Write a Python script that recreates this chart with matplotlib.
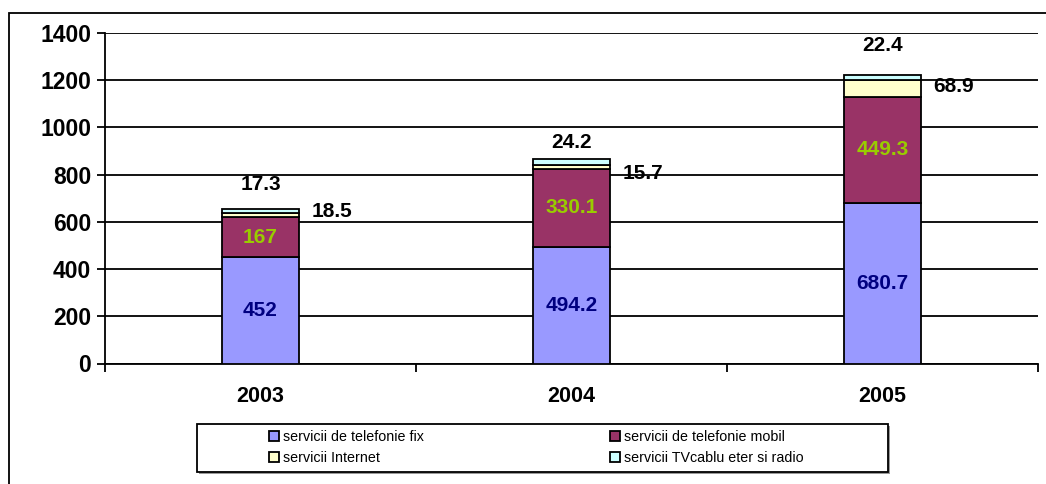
import matplotlib
matplotlib.use("Agg")
import matplotlib.pyplot as plt
from matplotlib.patches import Rectangle
import numpy as np

plt.rcParams['font.family'] = ['Liberation Sans', 'DejaVu Sans']

years = ["2003", "2004", "2005"]
fix = [452, 494.2, 680.7]
mobil = [167, 330.1, 449.3]
internet = [18.5, 15.7, 68.9]
tv = [17.3, 24.2, 22.4]
series_names = ["servicii de telefonie fix", "servicii de telefonie mobil",
                "servicii Internet", "servicii TVcablu eter si radio"]
yticks = [0, 200, 400, 600, 800, 1000, 1200, 1400]

colors = ["#9999FF", "#993366", "#FFFFCC", "#CCFFFF"]

fig = plt.figure(figsize=(10.46, 4.84), dpi=100)
ax = fig.add_axes([105/1046, 1-363.5/484, (1038-105)/1046, (363.5-33)/484])

x = np.arange(len(years))
w = 0.245
series = [fix, mobil, internet, tv]
bottom = np.zeros(len(years))
handles = []
for vals, c, name in zip(series, colors, series_names):
    b = ax.bar(x, vals, w, bottom=bottom, color=c, edgecolor='black', linewidth=1.3,
               label=name, zorder=3)
    handles.append(b)
    bottom = bottom + np.array(vals)

ax.set_xlim(-0.5, 2.5)
ax.set_ylim(0, 1400)
ax.set_yticks(yticks)
ax.set_yticklabels([str(t) for t in yticks], fontsize=16.5, fontweight='bold')
for t in yticks:
    ax.axhline(t, color='black', linewidth=1.3, zorder=1)
ax.set_xticks(x)
ax.set_xticklabels(years, fontsize=15.5, fontweight='bold')
ax.tick_params(axis='x', which='major', length=0, pad=16)
ax.set_xticks([-0.5, 0.5, 1.5, 2.5], minor=True)
ax.tick_params(axis='x', which='minor', length=6, width=1.3, direction='out')
ax.tick_params(axis='y', length=6, width=1.3, direction='out', pad=4)
for s in ['top', 'right']:
    ax.spines[s].set_visible(False)
for s in ['left', 'bottom']:
    ax.spines[s].set_linewidth(1.3)

def fmt(v):
    return ('%g' % v)

# inside labels
for i in range(len(years)):
    ax.text(x[i], fix[i] / 2, fmt(fix[i]),
            ha='center', va='center', fontsize=15, fontweight='bold', color='#000080', zorder=5)
    ax.text(x[i], fix[i] + mobil[i] / 2, fmt(mobil[i]),
            ha='center', va='center', fontsize=15, fontweight='bold', color='#99CC00', zorder=5)

# internet labels to the right
int_off = [4, -6, 2]
for i in range(len(years)):
    yc = fix[i] + mobil[i] + internet[i] / 2
    ax.annotate(fmt(internet[i]), (x[i] + w / 2, yc), xytext=(13, int_off[i]), textcoords='offset pixels',
                ha='left', va='center', fontsize=15, fontweight='bold', color='black', zorder=5)

# tv labels on top
top_off = [24, 17, 30]
for i in range(len(years)):
    total = fix[i] + mobil[i] + internet[i] + tv[i]
    ax.annotate(fmt(tv[i]), (x[i], total), xytext=(0, top_off[i]), textcoords='offset pixels',
                ha='center', va='center', fontsize=15, fontweight='bold', color='black', zorder=5)

# legend (row-major order: fix, mobil / internet, tv)
order = [0, 2, 1, 3]
leg = fig.legend(handles=[handles[k] for k in order], labels=[series_names[k] for k in order], ncol=2,
                 loc='upper left', bbox_to_anchor=(269/1046, 1-430/484),
                 fontsize=10.3, frameon=False,
                 handlelength=0.7, handleheight=0.7, handletextpad=0.3,
                 borderaxespad=0, labelspacing=0.5, borderpad=0, columnspacing=13.0)

# legend frame with shadow
fig.patches.append(Rectangle((199/1046, 1-474/484), (890-199)/1046, (474-426)/484, transform=fig.transFigure,
                             fill=True, facecolor='#999999', edgecolor='none', zorder=0))
fig.patches.append(Rectangle((197/1046, 1-472/484), (888-197)/1046, (472-424)/484, transform=fig.transFigure,
                             fill=True, facecolor='white', edgecolor='black', linewidth=1.3, zorder=0.5))

# figure frame
fig.patches.append(Rectangle((9/1046, -0.05), 1.1, 1-13/484 + 0.05, transform=fig.transFigure,
                             fill=False, edgecolor='black', linewidth=1.3))

fig.savefig("out.png", dpi=100)
